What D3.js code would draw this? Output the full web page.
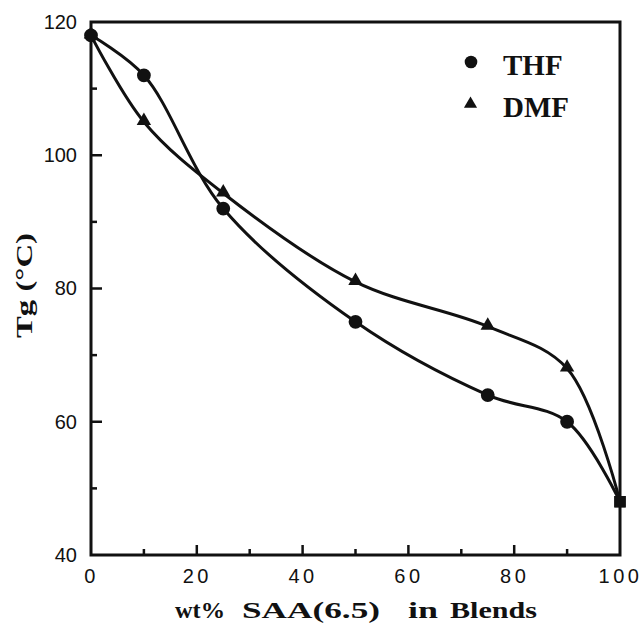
<!DOCTYPE html>
<html>
<head>
<meta charset="utf-8">
<script src="https://cdn.jsdelivr.net/npm/d3@7"></script>
<style>
  html, body { margin: 0; padding: 0; background: #fff; }
  svg { display: block; }
</style>
</head>
<body>
<svg id="chart" width="644" height="635"></svg>
<script>
// Glass transition temperature of blends versus SAA(6.5) content
const wtPercent = [0, 10, 25, 50, 75, 90, 100];
const tgTHF = [118, 112, 92, 75, 64, 60, 48];
const tgDMF = [118, 105, 94.3, 81, 74.3, 68, 48];
const xTicks = [0, 20, 40, 60, 80, 100];
const yTicks = [40, 60, 80, 100, 120];
const legendNames = ["THF", "DMF"];

const svg = d3.select("#chart");
const plotL = 91, plotR = 620, plotT = 22, plotB = 555;

const x = d3.scaleLinear().domain([0, 100]).range([plotL, plotR]);
const y = d3.scaleLinear().domain([40, 120]).range([plotB, plotT]);

const ink = "#111";
const sans = "'Liberation Sans', Arial, sans-serif";
const serif = "'Liberation Serif', 'Times New Roman', serif";

// frame
svg.append("rect")
  .attr("x", plotL).attr("y", plotT)
  .attr("width", plotR - plotL).attr("height", plotB - plotT)
  .attr("fill", "none").attr("stroke", ink).attr("stroke-width", 3);

// bottom axis: inward ticks, major every 20, minor every 10
const xAxis = d3.axisBottom(x).tickValues(xTicks).tickSize(0).tickPadding(14).tickFormat(d3.format("d"));
const gx = svg.append("g").attr("transform", `translate(0,${plotB})`).call(xAxis);
gx.select(".domain").remove();
gx.selectAll("text")
  .attr("font-family", sans).attr("font-size", 20).attr("fill", ink)
  .style("letter-spacing", "3.5px");
svg.append("g").selectAll("line")
  .data(d3.range(10, 100, 10))
  .join("line")
  .attr("x1", d => x(d)).attr("x2", d => x(d))
  .attr("y1", plotB).attr("y2", d => plotB - (d % 20 === 0 ? 10 : 6))
  .attr("stroke", ink).attr("stroke-width", 2.5);

// left axis
const yAxis = d3.axisLeft(y).tickValues(yTicks).tickSize(0).tickPadding(14).tickFormat(d3.format("d"));
const gy = svg.append("g").attr("transform", `translate(${plotL},0)`).call(yAxis);
gy.select(".domain").remove();
gy.selectAll("text")
  .attr("font-family", sans).attr("font-size", 20).attr("fill", ink);
svg.append("g").selectAll("line")
  .data(d3.range(50, 120, 10))
  .join("line")
  .attr("y1", d => y(d)).attr("y2", d => y(d))
  .attr("x1", plotL).attr("x2", d => plotL + (d % 20 === 0 ? 11 : 6))
  .attr("stroke", ink).attr("stroke-width", 2.5);

// x-axis title, set word by word in a wide bold serif
const xTitle = svg.append("text")
  .attr("y", 618)
  .attr("font-family", serif).attr("font-weight", "bold").attr("font-size", 23)
  .attr("fill", ink);
[["wt%", 175, 50], ["SAA(6.5)", 242, 138], ["in", 408, 30], ["Blends", 450, 87]]
  .forEach(([word, wx, wl]) => {
    xTitle.append("tspan")
      .attr("x", wx)
      .attr("textLength", wl)
      .attr("lengthAdjust", "spacingAndGlyphs")
      .text(word);
  });

// y-axis title
svg.append("text")
  .attr("transform", `translate(32,285.5) rotate(-90)`)
  .attr("text-anchor", "middle")
  .attr("font-family", serif).attr("font-weight", "bold").attr("font-size", 23)
  .attr("fill", ink)
  .attr("textLength", 105)
  .attr("lengthAdjust", "spacingAndGlyphs")
  .text("Tg (°C)");

// curves
const line = d3.line()
  .x((d, i) => x(wtPercent[i]))
  .y(d => y(d))
  .curve(d3.curveCatmullRom.alpha(0.5));

[tgTHF, tgDMF].forEach(series => {
  svg.append("path")
    .datum(series)
    .attr("d", line)
    .attr("fill", "none")
    .attr("stroke", ink)
    .attr("stroke-width", 3);
});

// markers; the pure SAA(6.5) end point is shared by both series and marked with a square
const circleSym = d3.symbol().type(d3.symbolCircle).size(150);
const triSym = d3.symbol().type(d3.symbolTriangle).size(90);
const squareSym = d3.symbol().type(d3.symbolSquare).size(130);

svg.append("g").selectAll("path")
  .data(tgDMF)
  .join("path")
  .attr("d", (d, i) => wtPercent[i] === 100 ? squareSym() : triSym())
  .attr("transform", (d, i) => `translate(${x(wtPercent[i])},${y(d) - (wtPercent[i] === 100 ? 0 : 1)})`)
  .attr("fill", ink);

svg.append("g").selectAll("path")
  .data(tgTHF)
  .join("path")
  .attr("d", (d, i) => wtPercent[i] === 100 ? squareSym() : circleSym())
  .attr("transform", (d, i) => `translate(${x(wtPercent[i])},${y(d)})`)
  .attr("fill", ink);

// legend
const legend = svg.append("g");
legend.append("path").attr("d", d3.symbol().type(d3.symbolCircle).size(125)())
  .attr("transform", "translate(471,62)").attr("fill", ink);
legend.append("path").attr("d", d3.symbol().type(d3.symbolTriangle).size(75)())
  .attr("transform", "translate(470.5,104)").attr("fill", ink);
legend.selectAll("text")
  .data(legendNames)
  .join("text")
  .attr("x", 503)
  .attr("y", (d, i) => 75 + i * 42)
  .attr("font-family", serif).attr("font-weight", "bold").attr("font-size", 29)
  .attr("fill", ink)
  .text(d => d);
</script>
</body>
</html>
